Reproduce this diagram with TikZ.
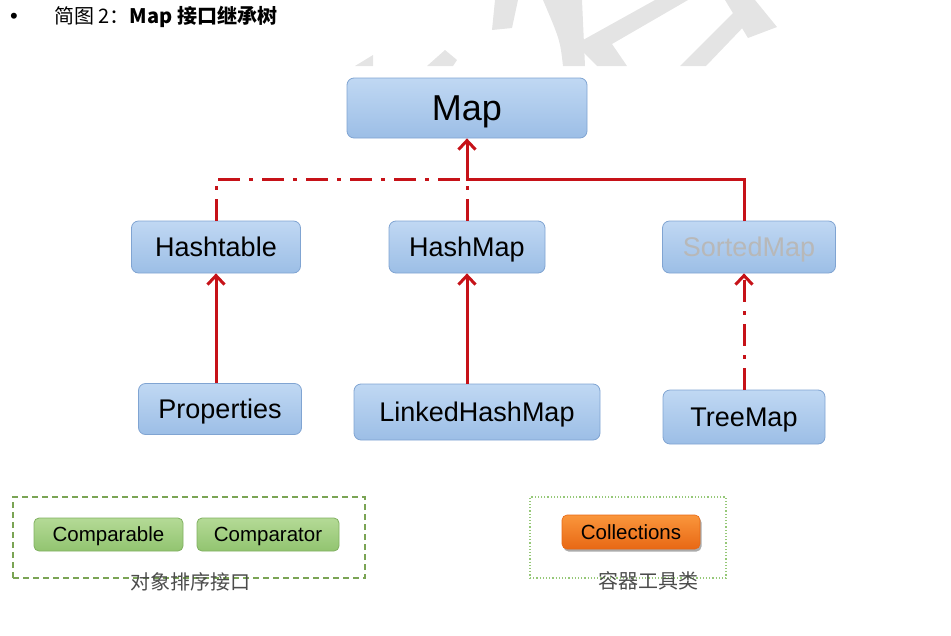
\documentclass[tikz,border=0pt]{standalone}
\usepackage{fontspec}
\setmainfont{Liberation Sans}
\newfontfamily\cjk{Noto Sans CJK SC}
\usetikzlibrary{arrows.meta,shadows,calc}
\definecolor{linkred}{RGB}{198,18,24}
\definecolor{bluetop}{RGB}{192,216,243}
\definecolor{bluebot}{RGB}{156,190,230}
\definecolor{blueedge}{RGB}{128,164,210}
\definecolor{greentop}{RGB}{180,218,150}
\definecolor{greenbot}{RGB}{146,196,112}
\definecolor{greenedge}{RGB}{128,176,96}
\definecolor{orangetop}{RGB}{250,150,60}
\definecolor{orangebot}{RGB}{232,104,20}
\definecolor{boxgreen}{RGB}{122,164,84}
\definecolor{dotgreen}{RGB}{150,200,120}
\definecolor{wmgray}{RGB}{228,228,228}
\tikzset{
  fsz/.style={font=\fontsize{#1}{#1}\selectfont,text height=#1*0.716pt,text depth=0pt},
  bluebox/.style={draw=blueedge,line width=0.8pt,rounded corners=7pt,top color=bluetop,bottom color=bluebot,inner sep=0pt},
  greenbox/.style={draw=greenedge,line width=0.8pt,rounded corners=5pt,top color=greentop,bottom color=greenbot,inner sep=0pt,fsz=20.5},
  orangebox/.style={draw=orangebot,line width=0.6pt,rounded corners=5pt,top color=orangetop,bottom color=orangebot,inner sep=0pt,fsz=20.5,
     drop shadow={shadow xshift=1.5pt,shadow yshift=-2.5pt,fill=black!55,opacity=0.6}},
  solidlink/.style={draw=linkred,line width=3pt},
  dashlink/.style={draw=linkred,line width=3pt,dash pattern=on 22pt off 9pt on 4pt off 9pt},
  tip/.style={-{Straight Barb[length=9pt,width=17pt]}},
  grouplabel/.style={text=black!70,font=\cjk\fontsize{20}{20}\selectfont,inner sep=0pt},
}
\begin{document}
\begin{tikzpicture}[x=1pt,y=-1pt]
\useasboundingbox (0,0) rectangle (951,635);
% watermark
\begin{scope}
\clip (0,0) rectangle (951,66);
\fill[wmgray] (355,66) -- (373,55) -- (373,66) -- cycle;
\fill[wmgray] (427,66) -- (445,50) -- (457,60) -- (453,66) -- cycle;
\fill[wmgray] (495,0) -- (518,0) -- (512,28) -- (492,30) -- cycle;
\fill[wmgray] (543,0) -- (582,0) -- (585,66) -- (563,66) .. controls (560,40) .. (543,0) -- cycle;
\fill[wmgray] (583,40) -- (655,0) -- (688,0) -- (612,44) -- (627,66) -- (597,66) -- (583,52) -- cycle;
\fill[wmgray] (680,66) -- (706,66) -- (752,18) -- (738,8) -- cycle;
\fill[wmgray] (725,0) -- (755,0) -- (777,27) -- (748,38) -- cycle;
\end{scope}
% header
\node[font=\fontsize{22}{22}\selectfont,inner sep=0pt] (bullet) at (14,18) {•};
\node[anchor=west,inner sep=0pt,font=\cjk\fontsize{20}{20}\selectfont] (title) at (54,17) {简图 2：\textbf{Map 接口继承树}};
% nodes
\node[bluebox,fsz=36,minimum width=240pt,minimum height=60pt] (map) at (467,108) {Map};
\node[bluebox,fsz=27,minimum width=169pt,minimum height=52pt] (hashtable) at (216,247) {Hashtable};
\node[bluebox,fsz=27,minimum width=156pt,minimum height=52pt] (hashmap) at (467,247) {HashMap};
\node[bluebox,fsz=27,minimum width=173pt,minimum height=52pt,text=black!28] (sorted) at (749,247) {SortedMap};
\node[bluebox,fsz=27,minimum width=163pt,minimum height=51pt] (props) at (220,409) {Properties};
\node[bluebox,fsz=27,minimum width=246pt,minimum height=56pt] (lhm) at (477,412) {LinkedHashMap};
\node[bluebox,fsz=27,minimum width=162pt,minimum height=54pt] (tree) at (744,417) {TreeMap};
% connectors
\coordinate (joint) at (467,179);
\draw[dashlink] (hashtable.north) |- (joint);
\draw[dashlink] (hashmap.north) -- (joint);
\draw[solidlink,tip] (sorted.north -| tree.north) |- (joint) -- (map.south);
\draw[solidlink,tip] (props.north -| hashtable.south) -- (hashtable.south);
\draw[solidlink,tip] (lhm.north -| hashmap.south) -- (hashmap.south);
\draw[dashlink,tip] (tree.north) -- (tree.north |- sorted.south);
% bottom groups
\node[draw=boxgreen,line width=1.5pt,dash pattern=on 6pt off 4pt,minimum width=352pt,minimum height=81pt,inner sep=0pt] (sortgroup) at (189,537.5) {};
\node[greenbox,minimum width=149pt,minimum height=33pt] (comparable) at (108.5,534.5) {Comparable};
\node[greenbox,minimum width=142pt,minimum height=33pt] (comparator) at (268,534.5) {Comparator};
\node[grouplabel] (sortlabel) at (190,582) {对象排序接口};
\node[draw=dotgreen,line width=1.2pt,dotted,minimum width=196pt,minimum height=81pt,inner sep=0pt] (toolgroup) at (628,537.5) {};
\node[orangebox,minimum width=138pt,minimum height=34pt] (collections) at (631,532) {Collections};
\node[grouplabel] (toollabel) at (648,581) {容器工具类};
\end{tikzpicture}
\end{document}
